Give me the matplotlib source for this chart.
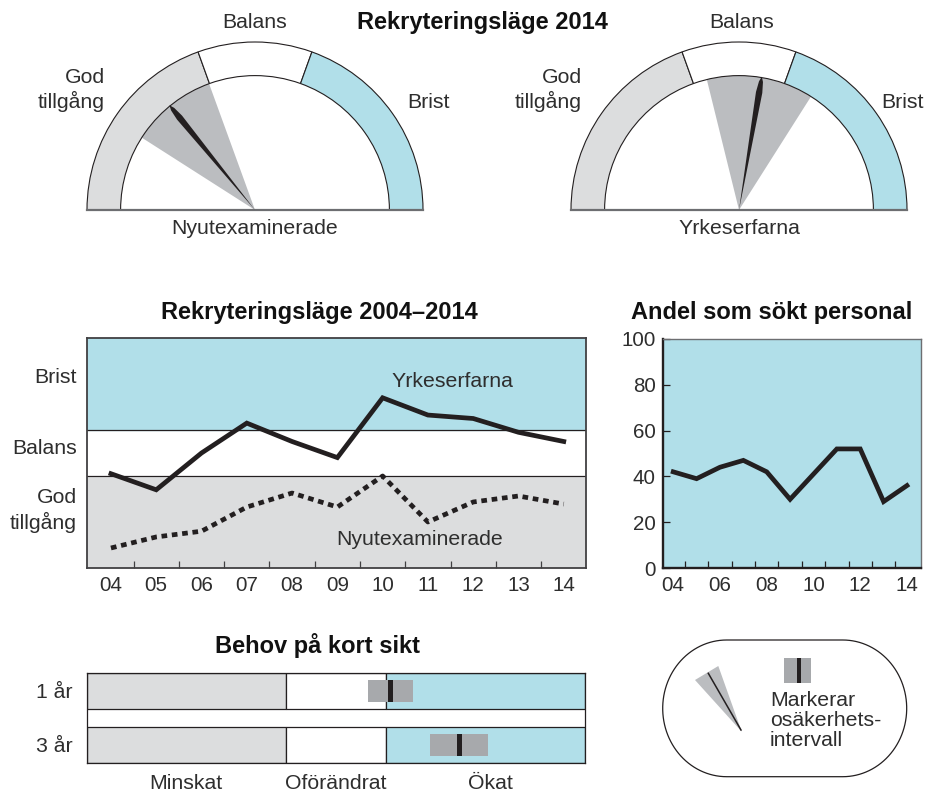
import matplotlib
matplotlib.use("Agg")
import matplotlib.pyplot as plt
import numpy as np
from matplotlib.patches import Wedge, Polygon, Rectangle

plt.rcParams['font.family'] = ['Liberation Sans', 'DejaVu Sans']

# --- data ---
years = [4, 5, 6, 7, 8, 9, 10, 11, 12, 13, 14]
year_labels = ['04', '05', '06', '07', '08', '09', '10', '11', '12', '13', '14']
yrkeserfarna = [41, 34, 50, 63, 55, 48, 74, 66.5, 65, 59, 55]
nyutexaminerade = [8.7, 13.5, 16, 26.5, 32.6, 26.5, 40, 20, 28.7, 31.3, 27.8]
andel_sokt = [42, 39, 44, 47, 42, 30, 41, 52, 52, 29, 36]
band_edges = [0, 40, 60, 100]
band_names = ['God\ntillgång', 'Balans', 'Brist']

gauge_edges = [0, 39, 61, 100]
gauge_names = ['Nyutexaminerade', 'Yrkeserfarna']
gauge_value = [28.2, 55.4]
gauge_low = [18.1, 42.3]
gauge_high = [38.9, 68.0]

behov_rows = ['1 år', '3 år']
behov_value = [61, 74.8]
behov_low = [56.5, 69]
behov_high = [65.4, 80.5]
behov_labels = ['Minskat', 'Oförändrat', 'Ökat']
behov_label_pos = [20, 50, 81]

GRAY = '#dcddde'
BLUE = '#b1dfe9'
WEDGE = '#bbbdc0'
MARK = '#a7a9ac'
INK = '#231f20'
TXT = '#2e2e2e'
FS = 15.3     # labels
TKS = 14.8    # tick labels
TFS = 17

W, H = 930, 793
fig = plt.figure(figsize=(W / 100, H / 100), dpi=100)


def add_ax(l, t, r, b):
    return fig.add_axes([l / W, 1 - b / H, (r - l) / W, (b - t) / H])


def ftext(x, y, s, **kw):
    kw.setdefault('fontsize', FS)
    kw.setdefault('color', TXT)
    kw.setdefault('ha', 'center')
    kw.setdefault('va', 'center')
    fig.text(x / W, 1 - y / H, s, **kw)


def ang(v):
    return 180 - v * 1.8


def draw_gauge(ax, value, low, high):
    ax.set_xlim(-1.07, 1.07)
    ax.set_ylim(-0.06, 1.07)
    ax.axis('off')
    ax.add_patch(Wedge((0, 0), 0.8, ang(high), ang(low), fc=WEDGE, ec='none', zorder=1))
    for i, c in enumerate([GRAY, 'white', BLUE]):
        ax.add_patch(Wedge((0, 0), 1, ang(gauge_edges[i + 1]), ang(gauge_edges[i]),
                           width=0.2, fc=c, ec=INK, lw=0.8, zorder=2))
    ax.plot([-1, 1], [0, 0], color='#6d6e71', lw=1.6, zorder=3)
    a = np.radians(ang(value))
    d = np.array([np.cos(a), np.sin(a)])
    n = np.array([-np.sin(a), np.cos(a)])
    pts = [(0, 0), 0.71 * d + 0.019 * n, 0.775 * d + 0.012 * n, 0.805 * d,
           0.775 * d - 0.012 * n, 0.71 * d - 0.019 * n]
    ax.add_patch(Polygon(pts, closed=True, fc=INK, ec='none', zorder=4))


R = 168
for cx, val, lo, hi in zip([255, 739], gauge_value, gauge_low, gauge_high):
    gax = add_ax(cx - 1.07 * R, 210 - 1.07 * R, cx + 1.07 * R, 210 + 0.06 * R)
    draw_gauge(gax, val, lo, hi)

ftext(482, 22, 'Rekryteringsläge 2014', fontsize=TFS, fontweight='bold', color='#111111')
ftext(255, 22, 'Balans')
ftext(105, 90, 'God\ntillgång', ha='right', linespacing=1.25)
ftext(428, 103, 'Brist')
ftext(255, 228, gauge_names[0])
ftext(742, 22, 'Balans')
ftext(582, 90, 'God\ntillgång', ha='right', linespacing=1.25)
ftext(902, 103, 'Brist')
ftext(739, 228, gauge_names[1])

# --- Rekryteringsläge 2004-2014 ---
ax2 = add_ax(86.5, 338, 585.5, 568)
ax2.set_xlim(3.46, 14.48)
ax2.set_ylim(0, 100)
for i, c in enumerate([GRAY, 'white', BLUE]):
    ax2.axhspan(band_edges[i], band_edges[i + 1], color=c, zorder=0)
for e in band_edges[1:-1]:
    ax2.axhline(e, color=INK, lw=0.9, zorder=1)
ax2.plot(years, yrkeserfarna, color=INK, lw=3.4, solid_joinstyle='miter', zorder=3)
ax2.plot(years, nyutexaminerade, color=INK, lw=3.4, ls=(0, (1.2, 1.0)),
         dash_capstyle='butt', zorder=3)
ax2.set_xticks(years)
ax2.set_xticklabels(year_labels)
ax2.set_xticks([y + 0.5 for y in years[:-1]], minor=True)
ax2.tick_params(axis='x', which='major', length=0, pad=6, labelsize=TKS, labelcolor=TXT)
ax2.tick_params(axis='x', which='minor', direction='in', length=5, width=0.9, color='#414042')
ax2.set_yticks([])
for s in ax2.spines.values():
    s.set_color('#414042')
    s.set_linewidth(1.3)
ytr = ax2.get_yaxis_transform()
ax2.text(-0.02, 83, band_names[2], transform=ytr, ha='right', va='center', fontsize=FS, color=TXT)
ax2.text(-0.02, 52, band_names[1], transform=ytr, ha='right', va='center', fontsize=FS, color=TXT)
ax2.text(-0.02, 25, band_names[0], transform=ytr, ha='right', va='center', fontsize=FS,
         color=TXT, linespacing=1.25)
ax2.text(10.2, 81, 'Yrkeserfarna', ha='left', va='center', fontsize=FS, color=TXT)
ax2.text(8.98, 12.5, 'Nyutexaminerade', ha='left', va='center', fontsize=FS, color=TXT)
ftext(319.5, 312, 'Rekryteringsläge 2004–2014', fontsize=TFS, fontweight='bold', color='#111111')

# --- Andel som sökt personal ---
ax3 = add_ax(662.7, 339, 921, 568)
ax3.set_facecolor(BLUE)
ax3.set_xlim(3.55, 14.6)
ax3.set_ylim(0, 100)
ax3.plot(years, andel_sokt, color=INK, lw=3.4, solid_joinstyle='miter')
ax3.set_xticks(years[::2])
ax3.set_xticklabels(year_labels[::2])
ax3.set_xticks([y + 0.5 for y in years[:-1]], minor=True)
ax3.set_yticks(range(0, 101, 20))
ax3.tick_params(axis='x', which='major', length=0, pad=6, labelsize=TKS, labelcolor=TXT)
ax3.tick_params(axis='x', which='minor', direction='in', length=5, width=0.9, color=INK)
ax3.tick_params(axis='y', direction='in', length=5, width=0.9, color=INK, pad=5,
                labelsize=TKS, labelcolor=TXT)
for k in ['left', 'bottom']:
    ax3.spines[k].set_color(INK)
    ax3.spines[k].set_linewidth(1.7)
for k in ['top', 'right']:
    ax3.spines[k].set_color('#6d6e71')
    ax3.spines[k].set_linewidth(1.0)
ftext(771.7, 313, 'Andel som sökt personal', fontsize=TFS, fontweight='bold', color='#111111')

# --- Behov på kort sikt ---
ax4 = add_ax(86.5, 673, 585, 763)
ax4.set_xlim(0, 100)
ax4.set_ylim(1 + 1 / 3, -1 / 3)
rows = np.arange(len(behov_rows))
for i, c in enumerate([GRAY, 'white', BLUE]):
    ax4.barh(rows, band_edges[i + 1] - band_edges[i], left=band_edges[i], height=2 / 3,
             color=c, edgecolor=INK, lw=0.9, zorder=1)
ax4.barh(rows, np.array(behov_high) - np.array(behov_low), left=behov_low, height=0.41,
         color=MARK, zorder=2)
ax4.barh(rows, 0.9, left=np.array(behov_value) - 0.45, height=0.41, color=INK, zorder=3)
ax4.set_yticks(rows)
ax4.set_yticklabels(behov_rows)
ax4.set_xticks(behov_label_pos)
ax4.set_xticklabels(behov_labels)
ax4.tick_params(length=0, labelsize=FS, labelcolor=TXT)
ax4.tick_params(axis='y', pad=10)
ax4.tick_params(axis='x', pad=8)
for s in ax4.spines.values():
    s.set_color(INK)
    s.set_linewidth(0.9)
ftext(317.6, 646, 'Behov på kort sikt', fontsize=TFS, fontweight='bold', color='#111111')

# --- legend box ---
ax5 = add_ax(655, 632, 915, 785)
ax5.set_xlim(655, 915)
ax5.set_ylim(785, 632)
ax5.axis('off')
bx0, by0, bx1, by1, rr = 662.7, 640, 906.7, 776.7, 64
cy = (by0 + by1) / 2
t = np.linspace(-np.pi / 2, np.pi / 2, 60)
half = (by1 - by0) / 2
right_side = np.column_stack([bx1 - rr + rr * np.cos(t), cy + half * np.sin(t)])
left_side = np.column_stack([bx0 + rr - rr * np.cos(t), cy - half * np.sin(t)])
ax5.add_patch(Polygon(np.vstack([right_side, left_side]), closed=True,
                      fc='white', ec=INK, lw=0.9))
ax5.add_patch(Polygon([(741.7, 731.7), (695, 680), (718.3, 666)], closed=True,
                      fc=WEDGE, ec='none'))
ax5.plot([708.3, 741], [673.3, 730], color=INK, lw=1.1)
ax5.add_patch(Rectangle((784, 658.3), 26.7, 25, fc=MARK, ec='none'))
ax5.add_patch(Rectangle((797.3, 658.3), 4, 25, fc=INK, ec='none'))
ax5.text(770, 691, 'Markerar\nosäkerhets-\nintervall', ha='left', va='top',
         fontsize=FS, color=TXT, linespacing=1.08)

fig.savefig('out.png', dpi=100)
